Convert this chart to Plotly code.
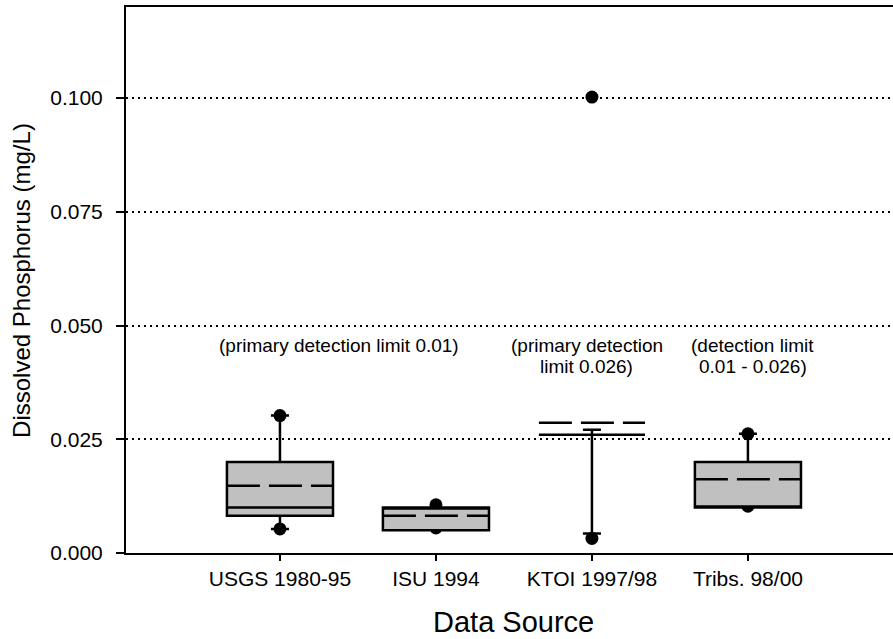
import plotly.graph_objects as go

# ---- data ----
categories = ["USGS 1980-95", "ISU 1994", "KTOI 1997/98", "Tribs. 98/00"]
q1 = [0.0082, 0.0050, 0.0260, 0.0100]
median = [0.0100, 0.0100, 0.0260, 0.0100]
q3 = [0.0200, 0.0100, 0.0260, 0.0200]
lowerfence = [0.0053, 0.0050, 0.0043, 0.0100]
upperfence = [0.0302, 0.0100, 0.0271, 0.0262]
means = [0.0148, 0.0082, 0.0286, 0.0162]

outlier_cat = [0, 0, 1, 1, 2, 2, 3, 3]
outlier_val = [0.0302, 0.0053, 0.0106, 0.0055, 0.1002, 0.0032, 0.0262, 0.0103]

y_ticks = [0.000, 0.025, 0.050, 0.075, 0.100]

notes = ["(primary detection limit 0.01)",
         "(primary detection", "limit 0.026)",
         "(detection limit", "0.01 - 0.026)"]
x_title = "Data Source"
y_title = "Dissolved Phosphorus (mg/L)"

# ---- styling ----
FONT = "Liberation Sans, Arial, sans-serif"
BOX_W = 0.68
XR = [-0.987, 3.93]
YR = [0, 0.12]
idx = list(range(len(categories)))

fig = go.Figure()

# outliers (drawn underneath the boxes)
fig.add_trace(go.Scatter(
    x=outlier_cat, y=outlier_val, mode="markers",
    marker=dict(color="black", size=13),
    xaxis="x", yaxis="y", showlegend=False, hoverinfo="y"))

# boxes on an overlay axis so they sit above the dots
fig.add_trace(go.Box(
    x=idx, q1=q1, median=median, q3=q3,
    lowerfence=lowerfence, upperfence=upperfence,
    width=BOX_W, whiskerwidth=0.17,
    fillcolor="#c0c0c0", line=dict(color="black", width=2.5),
    xaxis="x2", yaxis="y2", showlegend=False))

# mean lines (dashed)
mx, my = [], []
for i, m in zip(idx, means):
    mx += [i - BOX_W / 2, i + BOX_W / 2, None]
    my += [m, m, None]
fig.add_trace(go.Scatter(
    x=mx, y=my, mode="lines",
    line=dict(color="black", width=2.5, dash="33px,9px"),
    xaxis="x2", yaxis="y2", showlegend=False, hoverinfo="skip"))

tickfont = dict(family=FONT, size=21, color="black")
fig.update_layout(
    width=893, height=639,
    margin=dict(l=126, r=0, t=7, b=86, autoexpand=False),
    paper_bgcolor="white", plot_bgcolor="white",
    font=dict(family=FONT, color="black"),
    xaxis=dict(range=XR, tickvals=idx, ticktext=categories,
               showline=True, linecolor="black", linewidth=2, mirror=True,
               ticks="outside", ticklen=6, tickwidth=2, tickcolor="black",
               showgrid=False, zeroline=False, tickfont=tickfont,
               automargin=False),
    yaxis=dict(range=YR, tickvals=y_ticks, tickformat=".3f",
               showline=True, linecolor="black", linewidth=2, mirror=False,
               ticks="outside", ticklen=8, tickwidth=1.5, tickcolor="black",
               ticklabelstandoff=9,
               showgrid=True, gridcolor="black", gridwidth=2, griddash="2px,4px",
               zeroline=False, tickfont=tickfont, automargin=False),
    xaxis2=dict(range=XR, overlaying="x", visible=False),
    yaxis2=dict(range=YR, overlaying="y", visible=False),
)

note_font = dict(family=FONT, size=19, color="black")
note_pos = [(0.38, 0.0457), (1.968, 0.0457), (1.968, 0.0409),
            (3.03, 0.0457), (3.03, 0.0409)]
for t, (x, y) in zip(notes, note_pos):
    fig.add_annotation(text=t, x=x, y=y, xref="x", yref="y",
                       showarrow=False, font=note_font,
                       xanchor="center", yanchor="middle")

fig.add_annotation(text=x_title, x=1.5, xref="x", y=-0.126, yref="paper",
                   showarrow=False, xanchor="center", yanchor="middle",
                   font=dict(family=FONT, size=29, color="black"))
fig.add_annotation(text=y_title, x=-0.137, xref="paper", y=0.5, yref="paper",
                   textangle=-90, showarrow=False,
                   xanchor="center", yanchor="middle",
                   font=dict(family=FONT, size=24, color="black"))

fig.write_html("out.html",
               config={"displayModeBar": False},
               post_script="document.body.style.margin='0';document.body.style.overflow='hidden';")
